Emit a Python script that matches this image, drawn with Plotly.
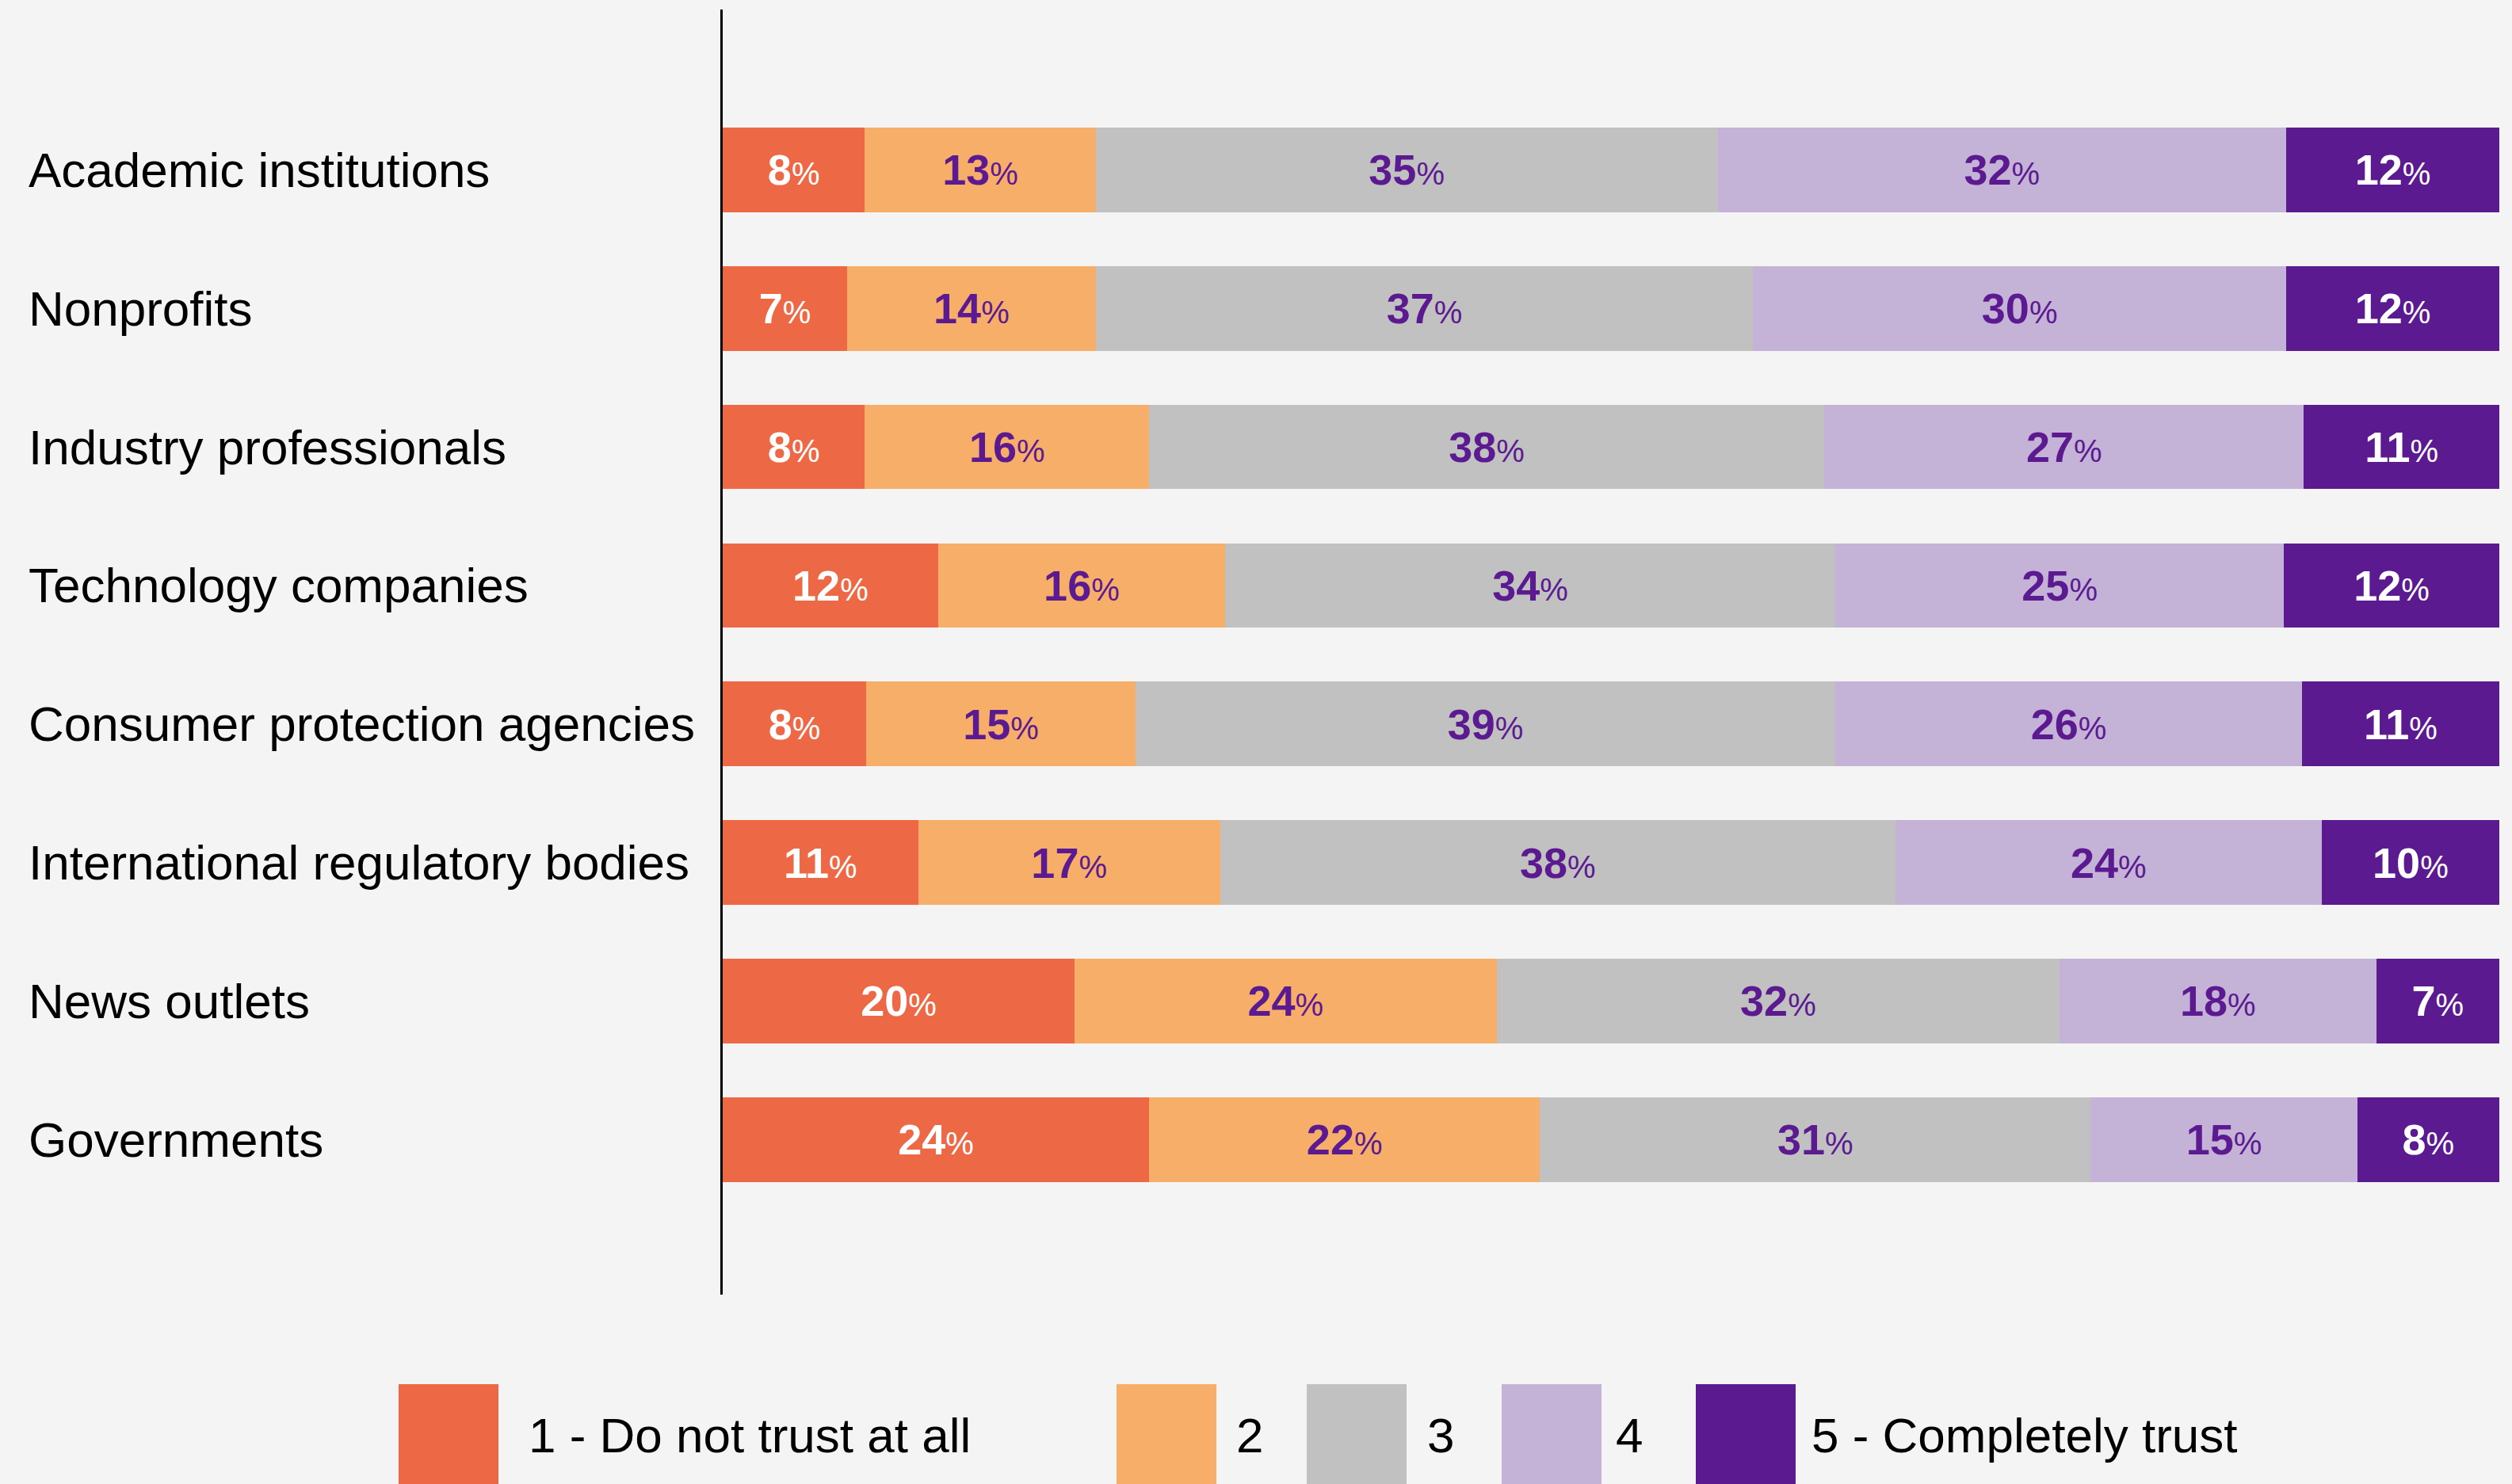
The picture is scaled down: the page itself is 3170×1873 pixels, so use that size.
import plotly.graph_objects as go

# Survey: level of trust in each type of organisation (share of respondents, %)
categories = [
    "Academic institutions",
    "Nonprofits",
    "Industry professionals",
    "Technology companies",
    "Consumer protection agencies",
    "International regulatory bodies",
    "News outlets",
    "Governments",
]
series_names = ["1 - Do not trust at all", "2", "3", "4", "5 - Completely trust"]
trust_1 = [8, 7, 8, 12, 8, 11, 20, 24]
trust_2 = [13, 14, 16, 16, 15, 17, 24, 22]
trust_3 = [35, 37, 38, 34, 39, 38, 32, 31]
trust_4 = [32, 30, 27, 25, 26, 24, 18, 15]
trust_5 = [12, 12, 11, 12, 11, 10, 7, 8]
series_values = [trust_1, trust_2, trust_3, trust_4, trust_5]

# Styling
colors = ["#ED6945", "#F7AE68", "#C1C1C1", "#C4B2D7", "#5C1A91"]
label_colors = ["#FFFFFF", "#5C1A91", "#5C1A91", "#5C1A91", "#FFFFFF"]
BG = "#F4F4F4"
FONT = "Liberation Sans"

W, H = 3170, 1873
ML, MR, MT, MB = 912, 16, 12, 239
PW = W - ML - MR
PH = H - MT - MB


def px_x(px):
    return (px - ML) / PW


def px_y(py):
    return (H - MB - py) / PH


fig = go.Figure()
for name, vals, col, lcol in zip(series_names, series_values, colors, label_colors):
    fig.add_trace(go.Bar(
        y=categories,
        x=vals,
        name=name,
        orientation="h",
        marker=dict(color=col, line=dict(width=0)),
        width=0.61,
        text=[f"<b>{v}</b><span style='font-size:40px'>%</span>" for v in vals],
        textposition="inside",
        insidetextanchor="middle",
        textangle=0,
        textfont=dict(family=FONT, size=54, color=lcol),
        hoverinfo="skip",
    ))

# Category labels, left aligned in the margin
for cat in categories:
    fig.add_annotation(
        x=px_x(34), xref="paper", xanchor="left",
        y=cat, yref="y", yanchor="middle",
        text=cat, showarrow=False,
        font=dict(family=FONT, size=62, color="#000000"),
    )

# Legend drawn as large swatches along the bottom
swatch_x = [503, 1409, 1649, 1895, 2140]
text_x = [665, 1558, 1799, 2037, 2284]
for name, col, sx, tx in zip(series_names, colors, swatch_x, text_x):
    fig.add_shape(
        type="rect", xref="paper", yref="paper",
        x0=px_x(sx), x1=px_x(sx + 126),
        y0=px_y(1747), y1=px_y(1910),
        fillcolor=col, line=dict(width=0), layer="above",
    )
    fig.add_annotation(
        x=px_x(tx), xref="paper", xanchor="left",
        y=px_y(1811), yref="paper", yanchor="middle",
        text=name, showarrow=False,
        font=dict(family=FONT, size=62, color="#000000"),
    )

fig.update_layout(
    width=W, height=H,
    margin=dict(l=ML, r=MR, t=MT, b=MB, pad=0),
    paper_bgcolor=BG, plot_bgcolor=BG,
    barmode="stack", barnorm="percent",
    showlegend=False,
    xaxis=dict(range=[0, 100], visible=False, showgrid=False, zeroline=False),
    yaxis=dict(
        type="category",
        range=[8.119, -1.157],
        showticklabels=False, ticks="",
        showgrid=False, zeroline=False,
        showline=True, linecolor="#000000", linewidth=2.5,
    ),
    font=dict(family=FONT),
)

fig.write_html("out.html")
